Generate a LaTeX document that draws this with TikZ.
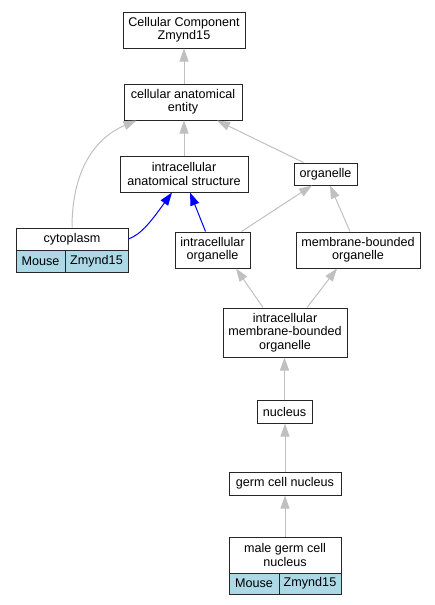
\documentclass[tikz,border=0pt]{standalone}
\usepackage{fontspec}
\setmainfont{Liberation Sans}
\usetikzlibrary{arrows.meta,calc}
\definecolor{edgegrey}{HTML}{C0C0C0}
\definecolor{cellblue}{HTML}{ADD8E6}
\begin{document}
\begin{tikzpicture}[x=1pt,y=-1pt,
  box/.style={draw=black!85,line width=1pt,fill=white,inner sep=0pt,align=center,font=\fontsize{12.6}{13.4}\selectfont},
  cell/.style={box,fill=cellblue},
  isa/.style={draw=edgegrey,line width=1pt,-{Triangle[length=13pt,width=9pt,fill=edgegrey]}},
  part/.style={draw=blue,line width=1pt,-{Triangle[length=13pt,width=9pt,fill=blue]}}]
\useasboundingbox (0,0) rectangle (435,605);
\node[box,minimum width=122pt,minimum height=36pt] (cc) at (184,30) {Cellular Component\\Zmynd15};
\node[box,minimum width=118pt,minimum height=36pt] (cae) at (183,102) {cellular anatomical\\entity};
\node[box,minimum width=128pt,minimum height=36pt] (ias) at (184,174) {intracellular\\anatomical structure};
\node[box,minimum width=63pt,minimum height=22pt] (org) at (325.5,174) {organelle};
\node[box,minimum width=112pt,minimum height=22pt] (cyt) at (72,239) {cytoplasm};
\node[cell,minimum width=49pt,minimum height=22pt] (cytm) at (40.5,261) {Mouse};
\node[cell,minimum width=63pt,minimum height=22pt] (cytz) at (96.5,261) {Zmynd15};
\node[box,minimum width=75pt,minimum height=36pt] (io) at (212.5,250) {intracellular\\organelle};
\node[box,minimum width=124pt,minimum height=36pt] (mbo) at (358,250) {membrane-bounded\\organelle};
\node[box,minimum width=124pt,minimum height=49pt] (imbo) at (285,332.5) {intracellular\\membrane-bounded\\organelle};
\node[box,minimum width=55pt,minimum height=23pt] (nuc) at (284.5,411.5) {nucleus};
\node[box,minimum width=112pt,minimum height=23pt] (gcn) at (285,483.5) {germ cell nucleus};
\node[box,minimum width=112pt,minimum height=36pt] (mgcn) at (285,555) {male germ cell\\nucleus};
\node[cell,minimum width=50pt,minimum height=21pt] (mgm) at (254,583.5) {Mouse};
\node[cell,minimum width=62pt,minimum height=21pt] (mgz) at (310,583.5) {Zmynd15};

\draw[isa] (cae.north -| cc.south) -- (cc.south);
\draw[isa] (ias.north) -- (ias.north |- cae.south);
\draw[isa] ($(org.north)+(-22,0)$) -- ($(cae.south)+(34,0)$);
\draw[isa] (cyt.north) .. controls (72,170) and (95,138) .. ($(cae.south west)+(13,0)$);
\draw[part] (cyt.east) .. controls (142,234) and (152,220) .. ($(ias.south)+(-12,0)$);
\draw[part] ($(io.north)+(-7,0)$) -- ($(ias.south)+(6,0)$);
\draw[isa] ($(io.north)+(29,0)$) -- ($(org.south)+(-13.5,0)$);
\draw[isa] ($(mbo.north)+(-8,0)$) -- ($(org.south)+(4.5,0)$);
\draw[isa] ($(imbo.north)+(-22,0)$) -- ($(io.south)+(23.5,0)$);
\draw[isa] ($(imbo.north)+(22,0)$) -- ($(mbo.south)+(-21,0)$);
\draw[isa] (nuc.north) -- (nuc.north |- imbo.south);
\draw[isa] (gcn.north) -- (gcn.north |- nuc.south);
\draw[isa] (mgcn.north) -- (mgcn.north |- gcn.south);
\end{tikzpicture}
\end{document}
